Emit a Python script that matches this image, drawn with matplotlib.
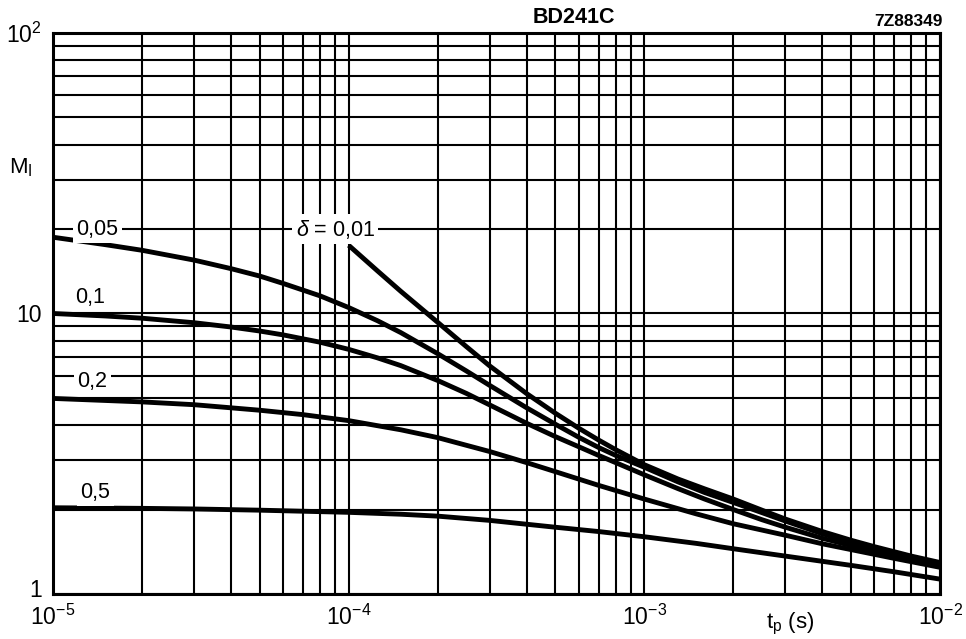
"""
plot.py
BD241C pulse rating chart: M_I against pulse time t_p, log-log
"""

import matplotlib
matplotlib.use("Agg")
from matplotlib import pyplot as plt
from matplotlib import transforms
from matplotlib.ticker import LogLocator, NullFormatter, FixedLocator

plt.rcParams['font.family'] = ['Liberation Sans', 'DejaVu Sans']
plt.rcParams['mathtext.fontset'] = 'custom'
plt.rcParams['mathtext.rm'] = 'Liberation Sans'
plt.rcParams['mathtext.it'] = 'Liberation Sans:italic'

BLACK = (0, 0, 0, 1)
WHITE = (1, 1, 1, 1)
GRID_WIDTH = 1.5
CURVE_WIDTH = 3.5
SPINE_WIDTH = 2.2
FONTSIZE = 15
TICKSIZE = 16.5

# Data (t_p in seconds, M_I)
tp_d001 = [1e-4, 1.25e-4, 1.5e-4, 2e-4, 2.5e-4, 3e-4, 4e-4, 5e-4, 6e-4, 7e-4, 8e-4,
           1e-3, 1.3e-3, 1.6e-3, 2e-3, 2.5e-3, 3e-3, 4e-3, 5e-3, 6e-3, 7e-3, 8e-3, 1e-2]
mi_d001 = [17.5, 14.2, 12.0, 9.3, 7.62, 6.5, 5.18, 4.41, 3.90, 3.54, 3.27,
           2.89, 2.57, 2.37, 2.18, 1.99, 1.85, 1.67, 1.555, 1.475, 1.415, 1.365, 1.295]

tp_d005 = [1e-5, 1.5e-5, 2e-5, 3e-5, 4e-5, 5e-5, 6e-5, 8e-5, 1e-4, 1.25e-4, 1.5e-4,
           2e-4, 2.5e-4, 3e-4, 4e-4, 5e-4, 6e-4, 7e-4, 8e-4, 1e-3, 1.3e-3, 1.6e-3,
           2e-3, 2.5e-3, 3e-3, 4e-3, 5e-3, 6e-3, 7e-3, 8e-3, 1e-2]
mi_d005 = [18.7, 17.6, 16.8, 15.5, 14.45, 13.6, 12.8, 11.56, 10.5, 9.43, 8.55,
           7.19, 6.24, 5.54, 4.61, 4.03, 3.62, 3.33, 3.12, 2.83, 2.51, 2.30,
           2.12, 1.95, 1.82, 1.64, 1.53, 1.455, 1.395, 1.35, 1.28]

tp_d01 = [1e-5, 1.5e-5, 2e-5, 3e-5, 4e-5, 5e-5, 6e-5, 8e-5, 1e-4, 1.25e-4, 1.5e-4,
          2e-4, 2.5e-4, 3e-4, 4e-4, 5e-4, 6e-4, 7e-4, 8e-4, 1e-3, 1.3e-3, 1.6e-3,
          2e-3, 2.5e-3, 3e-3, 4e-3, 5e-3, 6e-3, 7e-3, 8e-3, 1e-2]
mi_d01 = [10.0, 9.8, 9.62, 9.27, 8.95, 8.66, 8.39, 7.9, 7.45, 6.95, 6.52,
          5.77, 5.19, 4.72, 4.06, 3.64, 3.35, 3.12, 2.94, 2.66, 2.375, 2.18,
          2.0, 1.84, 1.73, 1.58, 1.488, 1.419, 1.368, 1.326, 1.265]

tp_d02 = [1e-5, 2e-5, 3e-5, 5e-5, 7e-5, 1e-4, 1.5e-4, 2e-4, 3e-4, 4e-4, 5e-4,
          7e-4, 1e-3, 1.5e-3, 2e-3, 3e-3, 4e-3, 5e-3, 7e-3, 1e-2]
mi_d02 = [4.98, 4.84, 4.73, 4.52, 4.36, 4.15, 3.85, 3.61, 3.22, 2.94, 2.73,
          2.44, 2.18, 1.93, 1.78, 1.62, 1.51, 1.44, 1.34, 1.245]

tp_d05 = [1e-5, 2e-5, 3e-5, 5e-5, 1e-4, 1.5e-4, 2e-4, 3e-4, 5e-4, 7e-4,
          1e-3, 1.5e-3, 2e-3, 3e-3, 5e-3, 7e-3, 1e-2]
mi_d05 = [2.03, 2.02, 2.01, 1.99, 1.955, 1.925, 1.895, 1.83, 1.73, 1.67,
          1.60, 1.515, 1.45, 1.365, 1.265, 1.20, 1.13]

curves = [(tp_d001, mi_d001), (tp_d005, mi_d005), (tp_d01, mi_d01),
          (tp_d02, mi_d02), (tp_d05, mi_d05)]

# curve labels: text, t_p, M_I
curve_labels = ["$\\delta$ = 0,01", "0,05", "0,1", "0,2", "0,5"]
label_tp = [9.0e-5, 1.41e-5, 1.33e-5, 1.36e-5, 1.39e-5]
label_mi = [20, 20, 11.4, 5.7, 2.31]

x_ticks = [1e-5, 1e-4, 1e-3, 1e-2]
x_ticklabels = ["$10^{-5}$", "$10^{-4}$", "$10^{-3}$", "$10^{-2}$"]
y_ticks = [1, 10, 100]
y_ticklabels = ["1", "10", "$10^2$"]

fig = plt.figure(figsize=(9.66, 6.39), dpi=100)
ax = fig.add_axes([0.0549, 0.0704, 0.9182, 0.878])
ax.set_xscale("log")
ax.set_yscale("log")
ax.set_xlim(1e-5, 1e-2)
ax.set_ylim(1, 100)

# grid on every 1..9 line of each decade
ax.xaxis.set_major_locator(FixedLocator(x_ticks))
ax.yaxis.set_major_locator(FixedLocator(y_ticks))
ax.xaxis.set_minor_locator(LogLocator(base=10, subs=range(2, 10)))
ax.yaxis.set_minor_locator(LogLocator(base=10, subs=range(2, 10)))
ax.xaxis.set_minor_formatter(NullFormatter())
ax.yaxis.set_minor_formatter(NullFormatter())
ax.grid(which="both", color=BLACK, linewidth=GRID_WIDTH, zorder=0)
ax.set_axisbelow(True)

ax.set_xticklabels(x_ticklabels, fontsize=TICKSIZE)
ax.set_yticklabels(y_ticklabels, fontsize=TICKSIZE)
ax.tick_params(which="both", length=0)
ax.tick_params(axis="x", pad=8)
ax.tick_params(axis="y", pad=8)
for spine in ax.spines.values():
    spine.set_linewidth(SPINE_WIDTH)

# the "1" sits a little higher than the axis, clear of the 10^-5 label
lift = transforms.ScaledTranslation(0, 4 / 72, fig.dpi_scale_trans)
one_label = ax.get_yticklabels()[0]
one_label.set_transform(one_label.get_transform() + lift)

for tp, mi in curves:
    ax.plot(tp, mi, color=BLACK, linewidth=CURVE_WIDTH, solid_capstyle="butt",
            solid_joinstyle="round", zorder=3)

for text, x, y in zip(curve_labels, label_tp, label_mi):
    ax.text(x, y, text, fontsize=FONTSIZE + 0.5, ha="center", va="center", zorder=4,
            bbox=dict(facecolor=WHITE, edgecolor="none", pad=2.5))

# axis titles placed as on the original sheet
fig.text(0.021, 0.737, "$\\mathregular{M_I}$", fontsize=FONTSIZE + 1, ha="center", va="center")
fig.text(0.818, 0.024, "$\\mathregular{t_p}$ (s)", fontsize=FONTSIZE + 1, ha="center", va="center")
fig.text(0.594, 0.972, "BD241C", fontsize=15.5, fontweight="bold", ha="center", va="center")
fig.text(0.976, 0.966, "7Z88349", fontsize=12.5, fontweight="bold", ha="right", va="center")

fig.savefig("out.png", dpi=100)
